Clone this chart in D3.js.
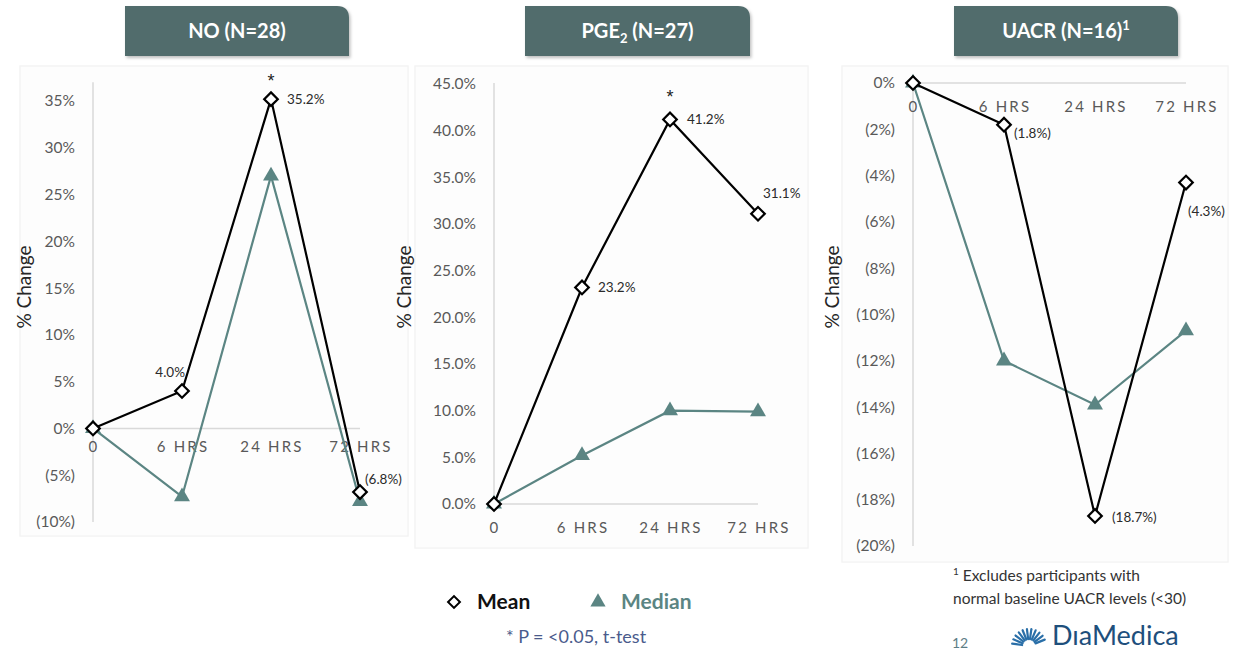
<!DOCTYPE html>
<html>
<head>
<meta charset="utf-8">
<script src="https://cdn.jsdelivr.net/npm/d3@7"></script>
<style>
  html, body { margin: 0; padding: 0; background: #ffffff; }
  svg { display: block; }
</style>
</head>
<body>
<svg id="chart" width="1234" height="652"></svg>
<script>
// Time points shared by all three panels
const categories = ["0", "6 HRS", "24 HRS", "72 HRS"];

// NO (N=28)
const noMean   = [0, 4.0, 35.2, -6.8];
const noMedian = [0, -7.3, 27.0, -7.8];
const noTicks  = [-10, -5, 0, 5, 10, 15, 20, 25, 30, 35];

// PGE2 (N=27)
const pgeMean   = [0, 23.2, 41.2, 31.1];
const pgeMedian = [0, 5.2, 10.0, 9.9];
const pgeTicks  = [0, 5, 10, 15, 20, 25, 30, 35, 40, 45];

// UACR (N=16)
const uacrMean   = [0, -1.8, -18.7, -4.3];
const uacrMedian = [0, -12.0, -13.9, -10.7];
const uacrTicks  = [-20, -18, -16, -14, -12, -10, -8, -6, -4, -2, 0];

// Which time points carry a significance star (p < 0.05)
const noStars = [false, false, true, false];
const pgeStars = [false, false, true, false];
const uacrStars = [false, false, false, false];

const FONT = "Lato, 'Open Sans', sans-serif";
const MEAN_COLOR = "#000000";
const MEDIAN_COLOR = "#5b8583";
const TITLE_FILL = "#516c6c";
const AXIS_GRAY = "#d9d9d9";
const TICK_GRAY = "#595959";

const svg = d3.select("#chart");

// soft shadow for the title tabs
const defs = svg.append("defs");
const shadow = defs.append("filter").attr("id", "tabShadow")
  .attr("x", "-10%").attr("y", "-10%").attr("width", "130%").attr("height", "140%");
shadow.append("feDropShadow").attr("dx", 1.5).attr("dy", 2).attr("stdDeviation", 1.5)
  .attr("flood-color", "#000").attr("flood-opacity", 0.25);

const pctInt = v => v < 0 ? `(${Math.abs(v)}%)` : `${v}%`;
const pctOne = v => v < 0 ? `(${Math.abs(v).toFixed(1)}%)` : `${v.toFixed(1)}%`;

const panels = [
  {
    title: "NO (N=28)", sub: null,
    tab: [125, 6, 224, 50],
    frame: [20, 66, 388, 470],
    mean: noMean, median: noMedian, stars: noStars, ticks: noTicks,
    tickFmt: pctInt,
    yDomain: [-10, 35], yRange: [522, 101], axisTop: 37,
    xRange: [93, 360], xLabelY: 452,
    yTitleX: 24,
    labels: [null, {dx: 3, dy: -14, anchor: "end"}, {dx: 16, dy: 5, anchor: "start"}, {dx: 5, dy: -8, anchor: "start"}],
    starDy: -12
  },
  {
    title: "PGE", sub: "2", titleRest: " (N=27)",
    tab: [525, 6, 225, 50],
    frame: [415, 66, 393, 482],
    mean: pgeMean, median: pgeMedian, stars: pgeStars, ticks: pgeTicks,
    tickFmt: pctOne,
    yDomain: [0, 45], yRange: [504, 84], axisTop: 45,
    xRange: [494, 758], xLabelY: 533,
    yTitleX: 404,
    labels: [null, {dx: 16, dy: 5, anchor: "start"}, {dx: 17, dy: 5, anchor: "start"}, {dx: 5, dy: -16, anchor: "start"}],
    starDy: -16
  },
  {
    title: "UACR (N=16)", sup: "1",
    tab: [954, 6, 224, 50],
    frame: [842, 66, 386, 496],
    mean: uacrMean, median: uacrMedian, stars: uacrStars, ticks: uacrTicks,
    tickFmt: pctInt,
    yDomain: [-20, 0], yRange: [546, 83], axisTop: 0,
    xRange: [913, 1186], xLabelY: 112,
    yTitleX: 832,
    labels: [null, {dx: 10, dy: 13, anchor: "start"}, {dx: 17, dy: 6, anchor: "start"}, {dx: 2, dy: 33, anchor: "start"}],
    starDy: -12
  }
];

// Title tab: rectangle with a rounded top-right corner
function tabPath(x, y, w, h, r) {
  return `M${x},${y} H${x + w - r} Q${x + w},${y} ${x + w},${y + r} V${y + h} H${x} Z`;
}

panels.forEach(p => {
  const g = svg.append("g");

  // faint plot frame
  g.append("rect")
    .attr("x", p.frame[0]).attr("y", p.frame[1])
    .attr("width", p.frame[2]).attr("height", p.frame[3])
    .attr("fill", "#fdfdfd").attr("stroke", "#f4f4f4").attr("stroke-width", 1.5);

  // title tab
  g.append("path")
    .attr("d", tabPath(p.tab[0], p.tab[1], p.tab[2], p.tab[3], 12))
    .attr("fill", TITLE_FILL)
    .attr("filter", "url(#tabShadow)");
  const tt = g.append("text")
    .attr("x", p.tab[0] + p.tab[2] / 2).attr("y", p.tab[1] + p.tab[3] / 2 + 7)
    .attr("text-anchor", "middle")
    .attr("font-family", FONT).attr("font-weight", 700).attr("font-size", 20)
    .attr("fill", "#ffffff");
  tt.append("tspan").text(p.title);
  if (p.sub) {
    tt.append("tspan").attr("font-size", 13).attr("dy", 5).text(p.sub);
    tt.append("tspan").attr("dy", -5).text(p.titleRest);
  }
  if (p.sup) {
    tt.append("tspan").attr("font-size", 13).attr("dy", -8).text(p.sup);
  }

  const x = d3.scalePoint().domain(categories).range(p.xRange);
  const y = d3.scaleLinear().domain(p.yDomain).range(p.yRange);

  // vertical axis line
  g.append("line")
    .attr("x1", p.xRange[0]).attr("x2", p.xRange[0])
    .attr("y1", y(p.axisTop) - (p.axisTop === p.yDomain[1] ? 1 : 0)).attr("y2", y(p.yDomain[0]))
    .attr("stroke", AXIS_GRAY).attr("stroke-width", 1.5);

  // y tick labels
  const yAxis = d3.axisLeft(y).tickValues(p.ticks).tickFormat(p.tickFmt).tickSize(0).tickPadding(18);
  const ya = g.append("g").attr("transform", `translate(${p.xRange[0]},0)`).call(yAxis);
  ya.select(".domain").remove();
  ya.selectAll("text")
    .attr("font-family", FONT).attr("font-size", 15.5).attr("fill", TICK_GRAY);

  // zero line (category axis)
  g.append("line")
    .attr("x1", p.xRange[0]).attr("x2", p.xRange[1])
    .attr("y1", y(0)).attr("y2", y(0))
    .attr("stroke", AXIS_GRAY).attr("stroke-width", 1.5);

  // category labels
  g.selectAll(".xl").data(categories).join("text")
    .attr("x", d => x(d) + 1).attr("y", p.xLabelY)
    .attr("text-anchor", "middle")
    .attr("font-family", FONT).attr("font-size", 15).attr("fill", TICK_GRAY)
    .attr("letter-spacing", "2.2px")
    .text(d => d);

  const line = d3.line().x((d, i) => x(categories[i])).y(d => y(d));

  // median series
  g.append("path").attr("d", line(p.median))
    .attr("fill", "none").attr("stroke", MEDIAN_COLOR).attr("stroke-width", 2.2);
  const tri = d3.symbol().type(d3.symbolTriangle).size(110);
  g.selectAll(".tri").data(p.median).join("path")
    .attr("transform", (d, i) => `translate(${x(categories[i])},${y(d)})`)
    .attr("d", tri).attr("fill", MEDIAN_COLOR);

  // mean series
  g.append("path").attr("d", line(p.mean))
    .attr("fill", "none").attr("stroke", MEAN_COLOR).attr("stroke-width", 2.2);
  g.selectAll(".dia").data(p.mean).join("rect")
    .attr("x", -4.8).attr("y", -4.8).attr("width", 9.6).attr("height", 9.6)
    .attr("transform", (d, i) => `translate(${x(categories[i])},${y(d)}) rotate(45)`)
    .attr("fill", "#ffffff").attr("stroke", MEAN_COLOR).attr("stroke-width", 2.2);

  // value labels on the mean series
  p.mean.forEach((v, i) => {
    const L = p.labels[i];
    if (!L) return;
    g.append("text")
      .attr("x", x(categories[i]) + L.dx).attr("y", y(v) + L.dy)
      .attr("text-anchor", L.anchor)
      .attr("font-family", FONT).attr("font-size", 13.5).attr("fill", "#2b2b2b")
      .text(pctOne(v));
  });

  // significance stars
  p.mean.forEach((v, i) => {
    if (!p.stars[i]) return;
    g.append("text")
      .attr("x", x(categories[i])).attr("y", y(v) + p.starDy)
      .attr("text-anchor", "middle")
      .attr("font-family", "'Liberation Sans', sans-serif").attr("font-size", 18).attr("fill", "#222222")
      .text("*");
  });

  // y-axis title
  g.append("text")
    .attr("transform", `translate(${p.yTitleX},287) rotate(-90)`)
    .attr("text-anchor", "middle").attr("dy", "0.35em")
    .attr("font-family", FONT).attr("font-size", 19).attr("fill", "#262626")
    .text("% Change");
});

// legend
const lg = svg.append("g");
lg.append("rect")
  .attr("x", -4.2).attr("y", -4.2).attr("width", 8.4).attr("height", 8.4)
  .attr("transform", "translate(454,602) rotate(45)")
  .attr("fill", "#fff").attr("stroke", "#000").attr("stroke-width", 2);
lg.append("text").attr("x", 477).attr("y", 609)
  .attr("font-family", FONT).attr("font-weight", 700).attr("font-size", 21).attr("fill", "#111")
  .text("Mean");
lg.append("path")
  .attr("d", d3.symbol().type(d3.symbolTriangle).size(100)())
  .attr("transform", "translate(598,602)").attr("fill", MEDIAN_COLOR);
lg.append("text").attr("x", 621).attr("y", 609)
  .attr("font-family", FONT).attr("font-weight", 700).attr("font-size", 21).attr("fill", MEDIAN_COLOR)
  .text("Median");
lg.append("text").attr("x", 576).attr("y", 643).attr("text-anchor", "middle")
  .attr("font-family", FONT).attr("font-size", 18).attr("fill", "#4a5b8c")
  .text("* P = <0.05, t-test");

// footnote for UACR
const fn = svg.append("g").attr("font-family", FONT).attr("font-size", 15.5).attr("fill", "#333");
const f1 = fn.append("text").attr("x", 953).attr("y", 581);
f1.append("tspan").attr("font-size", 10).attr("dy", -6).text("1");
f1.append("tspan").attr("dy", 6).text(" Excludes participants with");
fn.append("text").attr("x", 953).attr("y", 604).text("normal baseline UACR levels (<30)");

// page number and company mark
svg.append("text").attr("x", 952).attr("y", 648)
  .attr("font-family", FONT).attr("font-size", 14).attr("fill", "#5d7d86").text("12");

const burst = svg.append("g").attr("transform", "translate(1029,646)");
d3.range(-172, -7, 15).forEach(a => {
  const r = a * Math.PI / 180;
  burst.append("line")
    .attr("x1", Math.cos(r) * 7).attr("y1", Math.sin(r) * 7)
    .attr("x2", Math.cos(r) * 17).attr("y2", Math.sin(r) * 17)
    .attr("stroke", "#2a6fa8").attr("stroke-width", 2.2).attr("stroke-linecap", "round");
});
svg.append("text").attr("x", 1052).attr("y", 645)
  .attr("font-family", FONT).attr("font-size", 27).attr("fill", "#1e4f7c")
  .text("DıaMedica");
</script>
</body>
</html>
